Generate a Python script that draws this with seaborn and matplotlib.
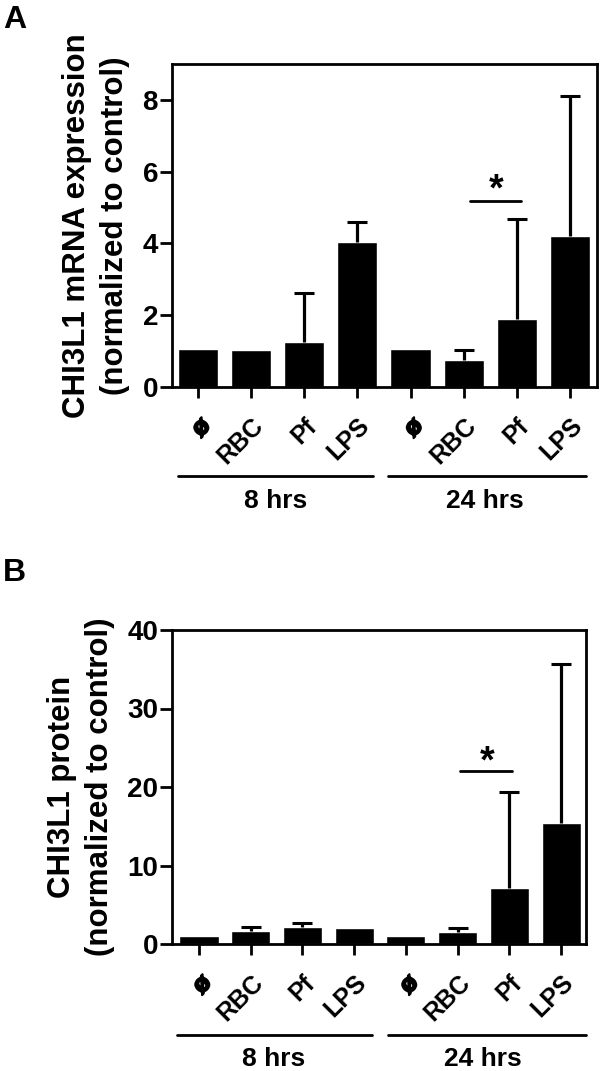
import matplotlib
matplotlib.use("Agg")
import matplotlib.pyplot as plt
import matplotlib.patheffects as pe
from matplotlib.transforms import ScaledTranslation
import seaborn as sns
import pandas as pd

labels = ["\u00f8", "RBC", "Pf", "LPS"]
group_names = ["8 hrs", "24 hrs"]
a_vals = [1.05, 1.03, 1.25, 4.05, 1.05, 0.75, 1.89, 4.2]
a_errs = [1.05, 1.05, 2.62, 4.6, 1.05, 1.03, 4.68, 8.12]
b_vals = [1.05, 1.7, 2.2, 2.0, 1.05, 1.5, 7.15, 15.4]
b_errs = [1.05, 2.2, 2.7, 2.0, 1.05, 2.0, 19.3, 35.7]
a_ticks = [0, 2, 4, 6, 8]
b_ticks = [0, 10, 20, 30, 40]

sns.set_theme(style="ticks")
plt.rcParams['font.family'] = ['Liberation Sans', 'DejaVu Sans']
plt.rcParams['font.weight'] = 'bold'
plt.rcParams['text.color'] = 'black'
plt.rcParams['axes.edgecolor'] = 'black'
plt.rcParams['xtick.color'] = 'black'
plt.rcParams['ytick.color'] = 'black'
plt.rcParams['xtick.labelcolor'] = 'black'
plt.rcParams['ytick.labelcolor'] = 'black'

W, H = 600, 1071
fig = plt.figure(figsize=(W/100, H/100), dpi=100, facecolor='white')

def panel(box, xlim, vals, errs, ymax, ticks, ylabel, letter, lx, ly, star, group_spans, group_y, label_y, name_xs, ylab_x):
    L, T, R, B = box
    ax = fig.add_axes([L/W, 1-B/H, (R-L)/W, (B-T)/H])
    xs = list(range(8))
    df = pd.DataFrame({"x": xs, "v": vals})
    sns.barplot(data=df, x="x", y="v", color="black", saturation=1, width=0.755, ax=ax, native_scale=True)
    shown = [i for i in xs if errs[i] > vals[i] + 0.05]
    eb = ax.errorbar(shown, [vals[i] for i in shown],
                     yerr=[[0]*len(shown), [errs[i]-vals[i] for i in shown]],
                     fmt='none', ecolor='black', elinewidth=2.3, capsize=7.0, capthick=2.2)
    eb[1][0].set_visible(False)
    ax.set_xlim(*xlim)
    ax.set_ylim(0, ymax)
    ax.set_yticks(ticks)
    ax.set_xticks(xs)
    ax.set_xticklabels(labels*2, rotation=45, ha='right', rotation_mode='anchor', fontsize=18, fontweight='bold')
    for t in ax.get_xticklabels():
        is_null = t.get_text() == "\u00f8"
        shift = ScaledTranslation((-15 if is_null else -18)/100, 0, fig.dpi_scale_trans)
        t.set_transform(t.get_transform() + shift)
        if is_null:
            t.set_path_effects([pe.withStroke(linewidth=1.5, foreground='black')])
    ax.tick_params(axis='y', labelsize=20, width=2, length=8.5, pad=1.5)
    ax.tick_params(axis='x', width=2, length=8, pad=11)
    ax.set_xlabel("")
    ax.set_ylabel("")
    for s in ax.spines.values():
        s.set_linewidth(2)
    fig.text(ylab_x/W, 1-(T+B)/2/H, ylabel, rotation=90, ha='center', va='center', fontsize=22.5, fontweight='bold', linespacing=1.36)
    fig.text(lx/W, 1-ly/H, letter, fontsize=23, fontweight='bold', ha='left', va='center')
    sx0, sx1, sy, tx, ty = star
    fig.add_artist(plt.Line2D([sx0/W, sx1/W], [1-sy/H]*2, color='black', lw=2))
    fig.text(tx/W, 1-ty/H, "*", fontsize=27, fontweight='bold', ha='center', va='center')
    for (x0, x1), name, nx in zip(group_spans, group_names, name_xs):
        fig.add_artist(plt.Line2D([x0/W, x1/W], [1-group_y/H]*2, color='black', lw=2))
        fig.text(nx/W, 1-label_y/H, name, fontsize=19, fontweight='bold', ha='center', va='center')
    return ax

panel((172, 64, 597, 387), (-0.49, 7.51), a_vals, a_errs, 9, a_ticks,
      "CHI3L1 mRNA expression\n(normalized to control)", "A", 3, 20,
      (470, 521, 201, 496, 190), [(178, 373), (388, 586)], 476, 501, (276, 485), 96)
panel((172, 630, 585.5, 944), (-0.522, 7.47), b_vals, b_errs, 40, b_ticks,
      "CHI3L1 protein\n(normalized to control)", "B", 3, 573,
      (460, 512, 771, 487, 762), [(177, 372), (388, 586)], 1035, 1059, (274, 483), 81)

fig.savefig("out.png", dpi=100)
